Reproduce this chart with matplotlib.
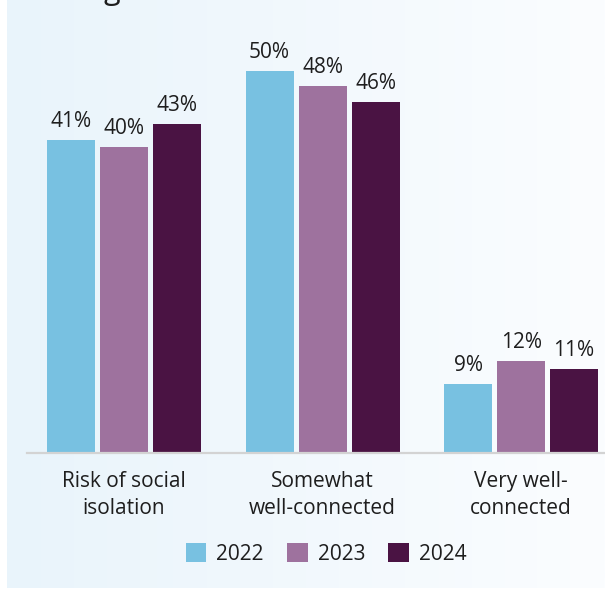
import matplotlib
matplotlib.use("Agg")
import matplotlib.pyplot as plt
import numpy as np
from matplotlib.patches import Patch
from matplotlib.colors import LinearSegmentedColormap

categories = ["Risk of social\nisolation", "Somewhat\nwell-connected", "Very well-\nconnected"]
years = ["2022", "2023", "2024"]
values_2022 = [41, 50, 9]
values_2023 = [40, 48, 12]
values_2024 = [43, 46, 11]
series = [values_2022, values_2023, values_2024]
colors = ["#78C1E1", "#9E729E", "#4A1343"]

plt.rcParams['font.family'] = ['Open Sans', 'DejaVu Sans']
TEXT = "#1e1e1e"
W, H = 605, 589
fig = plt.figure(figsize=(W / 100, H / 100), dpi=100)
fig.patch.set_facecolor("white")

# gradient panel
bg = fig.add_axes([7 / W, 1 / H, 598 / W, 588 / H], zorder=0)
grad = np.linspace(0, 1, 256)[None, :]
cmap = LinearSegmentedColormap.from_list("bg", ["#E9F4FB", "#FBFDFF"])
bg.imshow(grad, aspect="auto", cmap=cmap, extent=[0, 1, 0, 1])
bg.set_axis_off()

# cut-off title fragment (the reference shows only the descender of a "g")
fig.text(104 / W, 1 + 1 / H, "g", fontsize=22, color=TEXT, ha="left", va="baseline")

ax = fig.add_axes([27 / W, 136 / H, 578 / W, 453 / H], zorder=1)
ax.patch.set_alpha(0)
x = np.arange(len(categories))
step = 0.267
width = 0.242
for i, (vals, col, yr) in enumerate(zip(series, colors, years)):
    xs = x + (i - 1) * step
    ax.bar(xs, vals, width=width, color=col, label=yr, zorder=2)
    for xi, v in zip(xs, vals):
        ax.annotate(f"{v}%", (xi, v), xytext=(0, 9.4), textcoords="offset points",
                    ha="center", va="baseline", fontsize=15, color=TEXT)

ax.set_xlim(-0.489, -0.489 + 578 / 198.5)
ax.set_ylim(0, 453 / 7.64)
for s in ["top", "right", "left"]:
    ax.spines[s].set_visible(False)
ax.spines["bottom"].set_color("#D3D3D3")
ax.spines["bottom"].set_linewidth(1.6)
ax.set_yticks([])
ax.set_xticks(x)
ax.set_xticklabels(categories, fontsize=15, color=TEXT, linespacing=1.35)
ax.tick_params(axis="x", length=0, pad=13)

handles = [Patch(facecolor=c, edgecolor="none", label=y) for c, y in zip(colors, years)]
leg = fig.legend(handles=handles, loc="center", bbox_to_anchor=(326 / W, 1 - 554 / H),
                 ncol=3, frameon=False, fontsize=15, handlelength=1.0, handleheight=1.0,
                 handletextpad=0.48, columnspacing=1.1, borderpad=0)
for t in leg.get_texts():
    t.set_color(TEXT)

fig.savefig("out.png", dpi=100)
